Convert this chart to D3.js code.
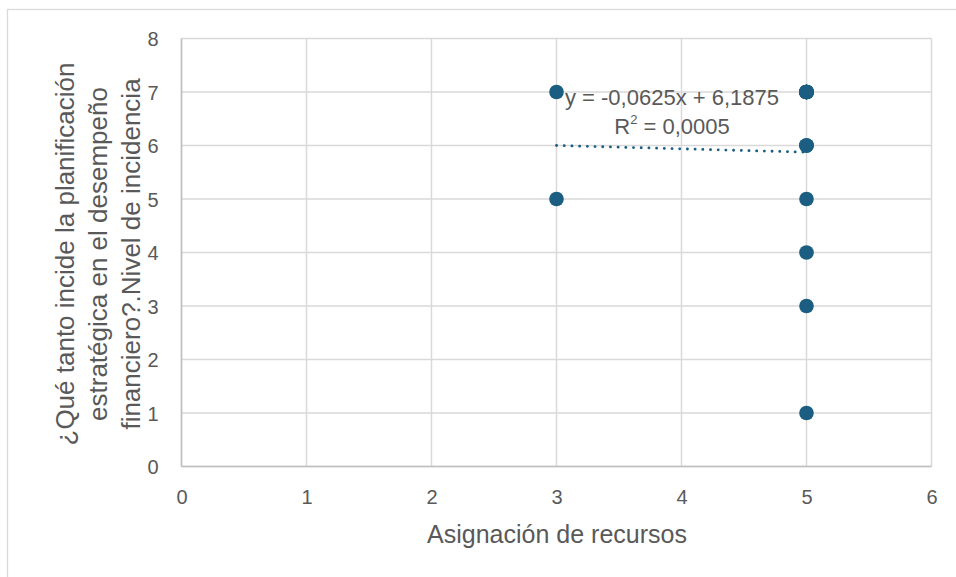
<!DOCTYPE html>
<html>
<head>
<meta charset="utf-8">
<script src="https://cdn.jsdelivr.net/npm/d3@7"></script>
<style>
  html, body { margin: 0; padding: 0; background: #ffffff; }
  svg { display: block; }
  text { font-family: "Liberation Sans", Arial, sans-serif; fill: #595959; }
</style>
</head>
<body>
<svg id="chart" width="956" height="577"></svg>
<script>
// Survey responses: resource allocation (x) vs. perceived incidence level (y)
// (repeated answers overlap on the same spot)
const xValues = [3, 3, 5, 5, 5, 5, 5, 5, 5, 5, 5, 5, 5, 5, 5, 5, 5, 5];
const yValues = [7, 5, 7, 7, 7, 7, 7, 7, 7, 7, 7, 6, 6, 6, 5, 4, 3, 1];

// Linear trendline coefficients and fit quality
const trendSlope = -0.0625;
const trendIntercept = 6.1875;
const trendR2 = "0,0005";
const trendRange = [3, 5];

const xTicks = [0, 1, 2, 3, 4, 5, 6];
const yTicks = [0, 1, 2, 3, 4, 5, 6, 7, 8];

const xTitle = "Asignación de recursos";
const yTitleLines = [
  "¿Qué tanto incide la planificación",
  "estratégica en el desempeño",
  "financiero?.Nivel de incidencia"
];

const svg = d3.select("#chart");
const W = 956, H = 577;
const plot = { left: 181.5, right: 931.5, top: 38.5, bottom: 466.5 };
const pointColor = "#1b5e82";
const gridColor = "#d9d9d9";
const fontStack = "'Liberation Sans', Arial, sans-serif";

// outer chart frame (runs past the right and bottom edges)
svg.append("rect")
  .attr("x", 7.5).attr("y", 9.5)
  .attr("width", W + 10).attr("height", H + 10)
  .attr("fill", "none").attr("stroke", gridColor).attr("stroke-width", 1.3);

const x = d3.scaleLinear().domain([0, 6]).range([plot.left, plot.right]);
const y = d3.scaleLinear().domain([0, 8]).range([plot.bottom, plot.top]);

// gridlines
const grid = svg.append("g");
grid.selectAll(".vg").data(xTicks).join("line")
  .attr("x1", d => x(d)).attr("x2", d => x(d))
  .attr("y1", plot.top).attr("y2", plot.bottom)
  .attr("stroke", gridColor).attr("stroke-width", 1.5);
grid.selectAll(".hg").data(yTicks).join("line")
  .attr("x1", plot.left).attr("x2", plot.right)
  .attr("y1", d => y(d)).attr("y2", d => y(d))
  .attr("stroke", gridColor).attr("stroke-width", 1.5);

// axis lines
svg.append("line")
  .attr("x1", plot.left).attr("x2", plot.right)
  .attr("y1", plot.bottom).attr("y2", plot.bottom)
  .attr("stroke", "#bfbfbf").attr("stroke-width", 1.5);
svg.append("line")
  .attr("x1", plot.left).attr("x2", plot.left)
  .attr("y1", plot.top).attr("y2", plot.bottom)
  .attr("stroke", "#bfbfbf").attr("stroke-width", 1.5);

// tick labels via d3 axes with hidden domain/ticks
const xAxis = svg.append("g")
  .attr("transform", `translate(0,${plot.bottom})`)
  .call(d3.axisBottom(x).tickValues(xTicks).tickSize(0).tickPadding(23).tickFormat(d3.format("d")));
const yAxis = svg.append("g")
  .attr("transform", `translate(${plot.left},0)`)
  .call(d3.axisLeft(y).tickValues(yTicks).tickSize(0).tickPadding(23).tickFormat(d3.format("d")));
[xAxis, yAxis].forEach(a => {
  a.select(".domain").remove();
  a.selectAll("text")
    .style("font-family", fontStack)
    .style("font-size", "20px")
    .attr("fill", "#595959");
});
yAxis.selectAll("text").attr("dy", "0.35em");

// trendline (dotted)
svg.append("line")
  .attr("x1", x(trendRange[0])).attr("y1", y(trendSlope * trendRange[0] + trendIntercept))
  .attr("x2", x(trendRange[1])).attr("y2", y(trendSlope * trendRange[1] + trendIntercept))
  .attr("stroke", pointColor).attr("stroke-width", 2.8)
  .attr("stroke-linecap", "round")
  .attr("stroke-dasharray", "0.1 7.6");

// points
const pts = xValues.map((v, i) => ({ x: v, y: yValues[i] }));
svg.append("g").selectAll("circle").data(pts).join("circle")
  .attr("cx", d => x(d.x))
  .attr("cy", d => y(d.y))
  .attr("r", 7.3)
  .attr("fill", pointColor);

// trendline equation label
const fmt = v => String(v).replace(".", ",");
const eq = `y = ${fmt(trendSlope)}x + ${fmt(trendIntercept)}`;
svg.append("text")
  .attr("x", 672).attr("y", 105)
  .attr("text-anchor", "middle")
  .style("font-size", "22px")
  .text(eq);
const r2 = svg.append("text")
  .attr("x", 672).attr("y", 134)
  .attr("text-anchor", "middle")
  .style("font-size", "22px");
r2.append("tspan").text("R");
r2.append("tspan").attr("dy", -10).style("font-size", "13px").text("2");
r2.append("tspan").attr("dy", 10).text(" = " + trendR2);

// axis titles
svg.append("text")
  .attr("x", 557).attr("y", 543)
  .attr("text-anchor", "middle")
  .style("font-size", "25px")
  .text(xTitle);

const yt = svg.append("text")
  .attr("transform", "translate(74,254) rotate(-90)")
  .attr("text-anchor", "middle")
  .style("font-size", "26px");
yTitleLines.forEach((line, i) => {
  yt.append("tspan").attr("x", 0).attr("y", i * 33).text(line);
});
</script>
</body>
</html>
